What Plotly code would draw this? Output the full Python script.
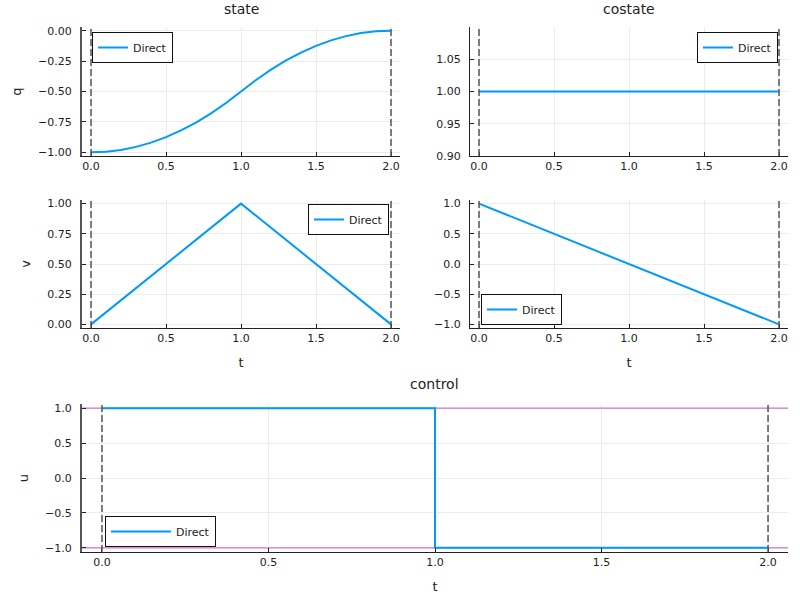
import plotly.graph_objects as go

# --- data ---
t_q = [0.0, 0.1, 0.2, 0.3, 0.4, 0.5, 0.6, 0.7, 0.8, 0.9, 1.0,
       1.1, 1.2, 1.3, 1.4, 1.5, 1.6, 1.7, 1.8, 1.9, 2.0]
q_vals = [-1.0, -0.995, -0.98, -0.955, -0.92, -0.875, -0.82, -0.755, -0.68, -0.595, -0.5,
          -0.405, -0.32, -0.245, -0.18, -0.125, -0.08, -0.045, -0.02, -0.005, 0.0]
t_v = [0.0, 1.0, 2.0]
v_vals = [0.0, 1.0, 0.0]
t_p1 = [0.0, 2.0]
p1_vals = [1.0, 1.0]
t_p2 = [0.0, 2.0]
p2_vals = [1.0, -1.0]
t_u = [0.0, 1.0, 1.0, 2.0]
u_vals = [1.0, 1.0, -1.0, -1.0]
time_bounds = [0.0, 2.0]
control_bounds = [-1.0, 1.0]
series_name = "Direct"

T_RANGE = [-0.06, 2.06]
BLUE = "#009AFA"
PINK = "#DD72C4"
FONT = "DejaVu Sans"
W, H = 800, 600


def px_x(a, b):
    return [a / W, b / W]


def px_y(top, bottom):
    return [1 - bottom / H, 1 - top / H]


fig = go.Figure()

# control bounds first so the control curve sits on top of them
for cb in control_bounds:
    fig.add_trace(go.Scatter(x=T_RANGE, y=[cb, cb], mode="lines", showlegend=False,
                             hoverinfo="skip", line=dict(color=PINK, width=1.2),
                             xaxis="x5", yaxis="y5", cliponaxis=True))

# --- traces ---
fig.add_trace(go.Scatter(x=t_q, y=q_vals, name=series_name, mode="lines",
                         line=dict(color=BLUE, width=2), xaxis="x", yaxis="y", legend="legend"))
fig.add_trace(go.Scatter(x=t_p1, y=p1_vals, name=series_name, mode="lines",
                         line=dict(color=BLUE, width=2), xaxis="x2", yaxis="y2", legend="legend2"))
fig.add_trace(go.Scatter(x=t_v, y=v_vals, name=series_name, mode="lines",
                         line=dict(color=BLUE, width=2), xaxis="x3", yaxis="y3", legend="legend3"))
fig.add_trace(go.Scatter(x=t_p2, y=p2_vals, name=series_name, mode="lines",
                         line=dict(color=BLUE, width=2), xaxis="x4", yaxis="y4", legend="legend4"))
fig.add_trace(go.Scatter(x=t_u, y=u_vals, name=series_name, mode="lines",
                         line=dict(color=BLUE, width=2), xaxis="x5", yaxis="y5", legend="legend5"))

# vertical dashed lines at the time bounds, in every panel
shapes = []
for ax in ["", "2", "3", "4", "5"]:
    for tb in time_bounds:
        shapes.append(dict(type="line", xref="x" + ax, yref=f"y{ax} domain",
                           x0=tb, x1=tb, y0=0, y1=1,
                           line=dict(color="#555555", width=1.5, dash="7px,3px")))

# --- axes ---
tick_font = dict(family=FONT, size=11, color="#222222")
common_x = dict(range=T_RANGE, tickvals=[0, 0.5, 1.0, 1.5, 2.0], tickformat=".1f",
                showgrid=True, gridcolor="#ececec", gridwidth=0.6, zeroline=False,
                showline=True, linecolor="#222222", linewidth=1.2,
                ticks="inside", ticklen=4, tickcolor="#222222",
                tickfont=tick_font, mirror=False, automargin=False)
common_y = dict(showgrid=True, gridcolor="#ececec", gridwidth=0.6, zeroline=False,
                showline=True, linecolor="#555555", linewidth=2,
                ticks="inside", ticklen=4, tickcolor="#222222",
                tickfont=tick_font, ticklabelstandoff=6, automargin=False)
title_font = dict(family=FONT, size=13, color="#222222")

fig.update_layout(
    xaxis=dict(common_x, domain=px_x(82, 400), anchor="y"),
    yaxis=dict(common_y, domain=px_y(27, 156), anchor="x", range=[-1.03, 0.03],
               tickvals=[-1.0, -0.75, -0.5, -0.25, 0.0], tickformat=".2f",
               title=dict(text="q", font=title_font, standoff=14)),
    xaxis2=dict(common_x, domain=px_x(470, 788), anchor="y2"),
    yaxis2=dict(common_y, domain=px_y(27, 156), anchor="x2", range=[0.9, 1.1],
                tickvals=[0.9, 0.95, 1.0, 1.05], tickformat=".2f", linecolor="#222222",
                linewidth=1.2),
    xaxis3=dict(common_x, domain=px_x(82, 400), anchor="y3",
                title=dict(text="t", font=title_font, standoff=13)),
    yaxis3=dict(common_y, domain=px_y(200, 328), anchor="x3", range=[-0.03, 1.03],
                tickvals=[0, 0.25, 0.5, 0.75, 1.0], tickformat=".2f",
                title=dict(text="v", font=title_font, standoff=14)),
    xaxis4=dict(common_x, domain=px_x(470, 788), anchor="y4",
                title=dict(text="t", font=title_font, standoff=13)),
    yaxis4=dict(common_y, domain=px_y(200, 328), anchor="x4", range=[-1.06, 1.06],
                tickvals=[-1.0, -0.5, 0.0, 0.5, 1.0], tickformat=".1f", linecolor="#222222",
                linewidth=1.2),
    xaxis5=dict(common_x, domain=px_x(82, 788), anchor="y5",
                tickvals=[0, 0.5, 1.0, 1.5, 2.0],
                title=dict(text="t", font=title_font, standoff=13)),
    yaxis5=dict(common_y, domain=px_y(404, 552), anchor="x5", range=[-1.06, 1.06],
                tickvals=[-1.0, -0.5, 0.0, 0.5, 1.0], tickformat=".1f",
                title=dict(text="u", font=title_font, standoff=14)),
)

# --- legends ---
leg = dict(bgcolor="white", bordercolor="#111111", borderwidth=1,
           font=dict(family=FONT, size=11, color="#222222"),
           xref="paper", yref="paper", itemwidth=30, tracegroupgap=0)
fig.update_layout(
    legend=dict(leg, x=92 / W, y=1 - 32 / H, xanchor="left", yanchor="top"),
    legend2=dict(leg, x=778 / W, y=1 - 32 / H, xanchor="right", yanchor="top"),
    legend3=dict(leg, x=389 / W, y=1 - 204 / H, xanchor="right", yanchor="top"),
    legend4=dict(leg, x=481 / W, y=1 - 325 / H, xanchor="left", yanchor="bottom"),
    legend5=dict(leg, x=105 / W, y=1 - 547 / H, xanchor="left", yanchor="bottom", itemwidth=60),
)

# --- panel titles ---
titles = [("state", 241, 9), ("costate", 629, 9), ("control", 435, 384)]
annotations = []
for text, xp, yp in titles:
    annotations.append(dict(text=text, x=xp / W, y=1 - yp / H, xref="paper", yref="paper",
                            showarrow=False, xanchor="center", yanchor="middle",
                            font=dict(family=FONT, size=14, color="#222222")))

fig.update_layout(
    width=W, height=H,
    margin=dict(l=0, r=0, t=0, b=0, autoexpand=False),
    paper_bgcolor="white", plot_bgcolor="white",
    shapes=shapes, annotations=annotations,
    showlegend=True,
)

# page body margin would shift the whole figure by 8px
fig.write_html("out.html", config={"displayModeBar": False},
               post_script="document.body.style.margin='0';")
